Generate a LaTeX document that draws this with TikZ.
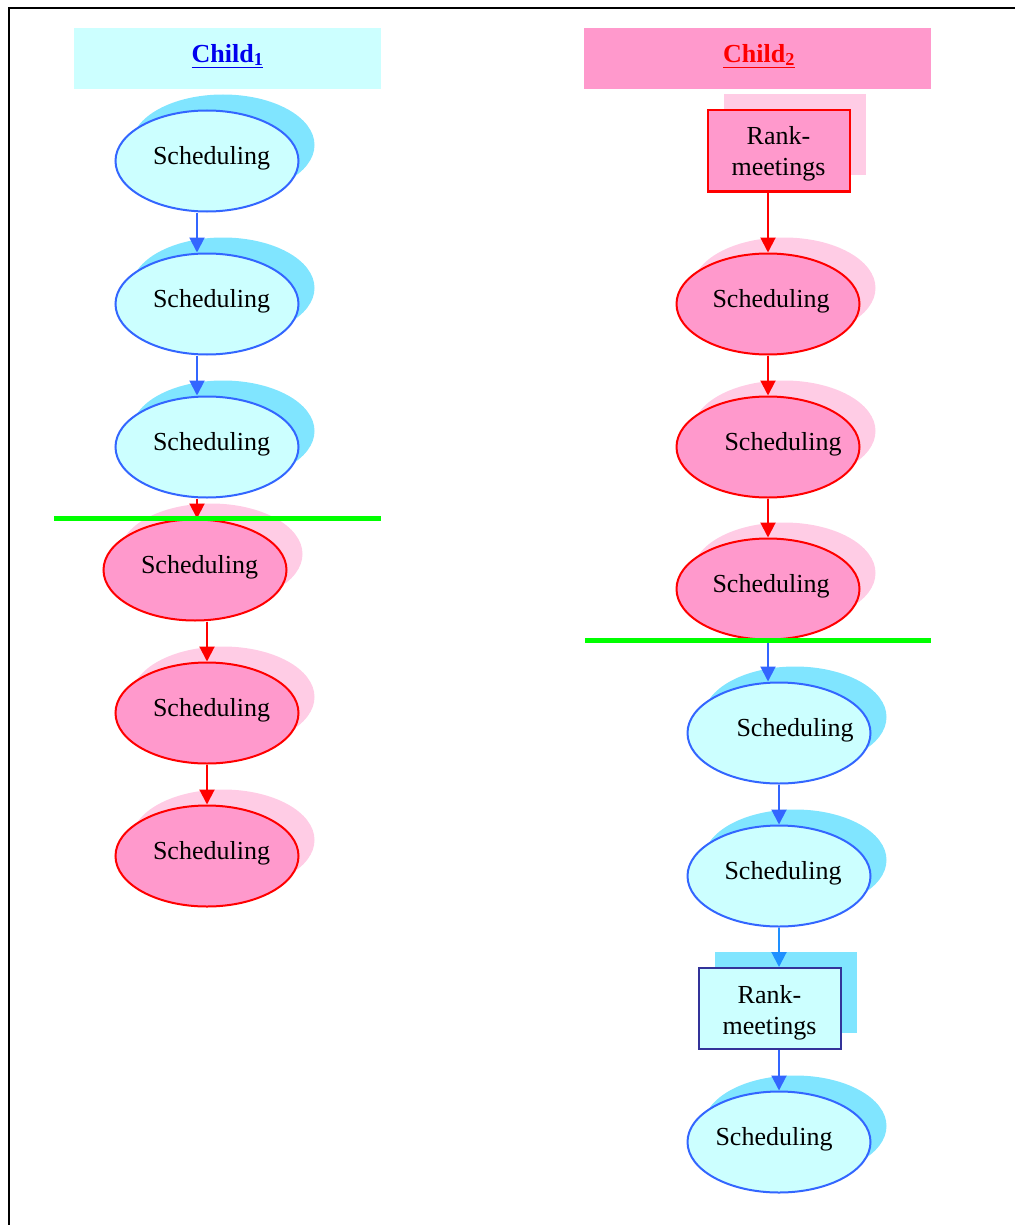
\documentclass[tikz,border=0pt]{standalone}
\usepackage{fontspec}
\setmainfont{Liberation Serif}
\usetikzlibrary{shapes.geometric,shadows,arrows.meta,calc}

\definecolor{cyanfill}{HTML}{CCFFFF}
\definecolor{cyanshade}{HTML}{80E5FF}
\definecolor{blueline}{HTML}{3366FF}
\definecolor{pinkfill}{HTML}{FF99CC}
\definecolor{pinkshade}{HTML}{FFCCE5}
\definecolor{redline}{HTML}{FF0000}
\definecolor{navyline}{HTML}{333399}
\definecolor{skyarrow}{HTML}{1E90FF}
\definecolor{limeline}{HTML}{00FF00}
\definecolor{headblue}{HTML}{0000EE}

\tikzset{
  oval/.style={ellipse, minimum width=183pt, minimum height=101pt,
    inner sep=0pt, line width=2pt},
  blueoval/.style={oval, draw=blueline, fill=cyanfill,
    drop shadow={shadow xshift=16pt, shadow yshift=16pt, opacity=1, fill=cyanshade}},
  pinkoval/.style={oval, draw=redline, fill=pinkfill,
    drop shadow={shadow xshift=16pt, shadow yshift=16pt, opacity=1, fill=pinkshade}},
  rankbox/.style={rectangle, minimum width=142pt, minimum height=81pt,
    inner sep=0pt, line width=2pt},
  bluerank/.style={rankbox, draw=navyline, fill=cyanfill,
    drop shadow={shadow xshift=16pt, shadow yshift=16pt, opacity=1, fill=cyanshade}},
  pinkrank/.style={rankbox, draw=redline, fill=pinkfill,
    drop shadow={shadow xshift=16pt, shadow yshift=16pt, opacity=1, fill=pinkshade}},
  lbl/.style={inner sep=0pt},
  ranklbl/.style={inner sep=0pt, align=center, font=\fontsize{26}{31}\selectfont},
  header/.style={rectangle, minimum width=#1, minimum height=61pt, inner sep=0pt},
  flow/.style={line width=2pt, -{Triangle[length=15pt,width=15pt]}},
  divider/.style={limeline, line width=5pt},
}

\begin{document}
\begin{tikzpicture}[x=1pt, y=-1pt, font=\fontsize{26}{30}\selectfont]
\useasboundingbox (0,0) rectangle (1014,1225);

% outer frame (only top and left edges are inside the page)
\draw[line width=2pt] (9,1226) -- (9,8) -- (1015,8);

% column headers
\node[header=307pt, fill=cyanfill] (h1) at (227.5,58.5) {};
\node[lbl, text=headblue] (h1t) at (227.5,56) {\underline{\textbf{Child}\textsubscript{\textbf{1}}}};
\node[header=347pt, fill=pinkfill] (h2) at (757.5,58.5) {};
\node[lbl, text=redline] (h2t) at (759,56) {\underline{\textbf{Child}\textsubscript{\textbf{2}}}};

% left column
\node[blueoval] (l1) at (207,161) {};
\node[blueoval] (l2) at (207,304) {};
\node[blueoval] (l3) at (207,447) {};
\node[pinkoval] (l4) at (195,570) {};
\node[pinkoval] (l5) at (207,713) {};
\node[pinkoval] (l6) at (207,856) {};

\node[lbl] (lt1) at ($(l1)+(4.5,-3)$) {Scheduling};
\node[lbl] (lt2) at ($(l2)+(4.5,-3)$) {Scheduling};
\node[lbl] (lt3) at ($(l3)+(4.5,-3)$) {Scheduling};
\node[lbl] (lt4) at ($(l4)+(4.5,-3)$) {Scheduling};
\node[lbl] (lt5) at ($(l5)+(4.5,-3)$) {Scheduling};
\node[lbl] (lt6) at ($(l6)+(4.5,-3)$) {Scheduling};

\draw[flow, blueline] ([xshift=-10pt]l1.south) -- ([xshift=-10pt]l2.north);
\draw[flow, blueline] ([xshift=-10pt]l2.south) -- ([xshift=-10pt]l3.north);
\draw[flow, redline] ([xshift=-10pt]l3.south) -- ([xshift=2pt]l4.north);
\draw[flow, redline] (l4.south -| l5) -- (l5.north);
\draw[flow, redline] (l5.south) -- (l6.north);

\coordinate (g1a) at (54,518);
\coordinate (g1b) at (381,518);
\draw[divider] (g1a) -- (g1b);

% right column
\node[pinkrank] (rk1) at (778.5,151) {};
\node[pinkoval] (r1) at (768,304) {};
\node[pinkoval] (r2) at (768,447) {};
\node[pinkoval] (r3) at (768,589) {};
\node[blueoval] (r4) at (779,733) {};
\node[blueoval] (r5) at (779,876) {};
\node[bluerank] (rk2) at (769.5,1008.5) {};
\node[blueoval] (r6) at (779,1142) {};

\node[ranklbl] (rkt1) at ($(rk1)+(0,3)$) {Rank-\\meetings};
\node[ranklbl] (rkt2) at ($(rk2)+(0,4)$) {Rank-\\meetings};

\node[lbl] (rt1) at ($(r1)+(3,-3)$) {Scheduling};
\node[lbl] (rt2) at ($(r2)+(15,-3)$) {Scheduling};
\node[lbl] (rt3) at ($(r3)+(3,-3)$) {Scheduling};
\node[lbl] (rt4) at ($(r4)+(16,-3)$) {Scheduling};
\node[lbl] (rt5) at ($(r5)+(4,-3)$) {Scheduling};
\node[lbl] (rt6) at ($(r6)+(-5,-3)$) {Scheduling};

\draw[flow, redline] (rk1.south -| r1) -- (r1.north);
\draw[flow, redline] (r1.south) -- (r2.north);
\draw[flow, redline] (r2.south) -- (r3.north);
\draw[flow, blueline] (r3.south) -- (r4.north -| r3);
\draw[flow, blueline] (r4.south) -- (r5.north);
\draw[flow, skyarrow] (r5.south) -- (rk2.north -| r5);
\draw[flow, blueline] (rk2.south -| r6) -- (r6.north);

\coordinate (g2a) at (585,640);
\coordinate (g2b) at (931,640);
\draw[divider] (g2a) -- (g2b);
\end{tikzpicture}
\end{document}
